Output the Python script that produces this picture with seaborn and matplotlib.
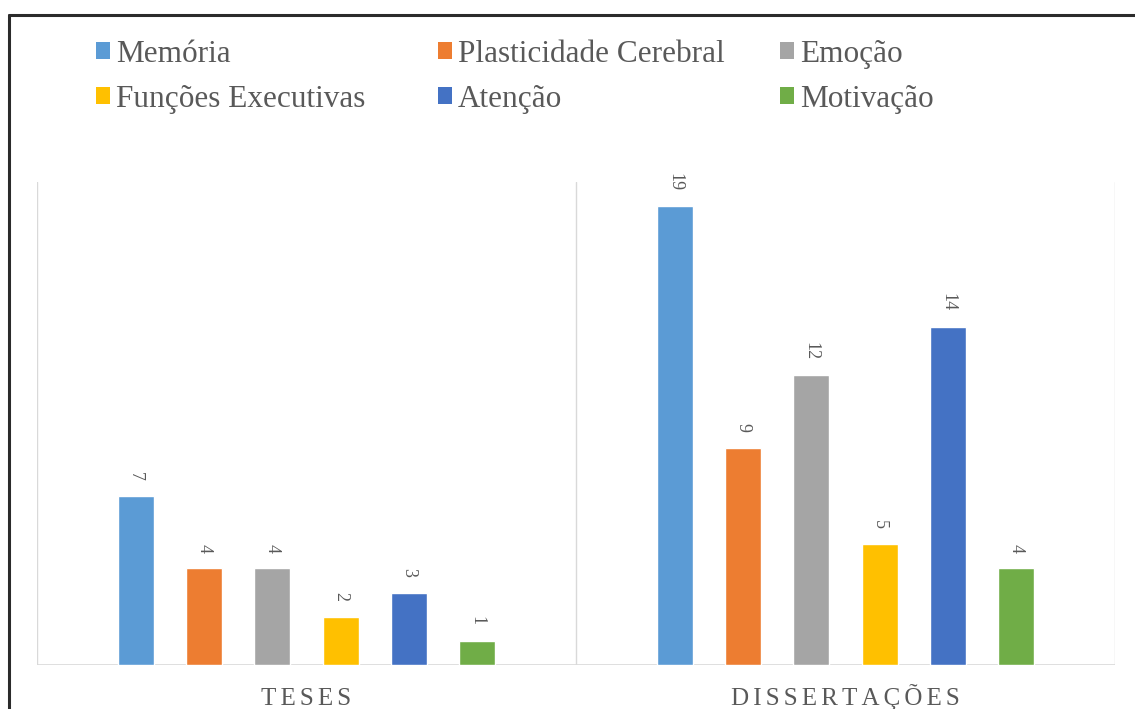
import matplotlib
matplotlib.use("Agg")
import matplotlib.pyplot as plt
from matplotlib.lines import Line2D
from matplotlib.patches import Patch
import seaborn as sns
import pandas as pd

# Data
groups = ["TESES", "DISSERTAÇÕES"]
categories = ["Memória", "Plasticidade Cerebral", "Emoção",
              "Funções Executivas", "Atenção", "Motivação"]
teses = [7, 4, 4, 2, 3, 1]
dissertacoes = [19, 9, 12, 5, 14, 4]
colors = ["#5B9BD5", "#ED7D31", "#A5A5A5", "#FFC000", "#4472C4", "#70AD47"]

df = pd.DataFrame({
    "grupo": [groups[0]] * len(categories) + [groups[1]] * len(categories),
    "tema": categories * 2,
    "n": teses + dissertacoes,
})

sns.set_theme(style="white")
plt.rcParams["font.family"] = ["Liberation Serif", "DejaVu Serif"]
text_color = "#595959"
grid_color = "#D9D9D9"

W, H = 1135, 709
fig = plt.figure(figsize=(W / 100, H / 100), dpi=100)
ax = fig.add_axes([37 / W, 44 / H, (1115 - 37) / W, (665 - 182) / H])

sns.barplot(data=df, x="grupo", y="n", hue="tema", order=groups,
            hue_order=categories, palette=colors, width=0.76, gap=0.47,
            ax=ax, legend=False, saturation=1)

for cont in ax.containers:
    ax.bar_label(cont, rotation=270, padding=11, fontsize=13,
                 color=text_color)

ax.set_xlim(-0.5, 1.5)
ax.set_ylim(0, 20)
ax.set_yticks([])
ax.set_xlabel("")
ax.set_ylabel("")
for s in ax.spines.values():
    s.set_visible(False)
ax.axhline(0, color=grid_color, lw=1.2, zorder=0)
for xv in (-0.5, 0.5, 1.5):
    ax.axvline(xv, color=grid_color, lw=1.0, zorder=0)

# Letter-spaced category labels
spaced = ["\u2006".join(g) for g in groups]
ax.set_xticks(range(len(groups)))
ax.set_xticklabels(spaced, fontsize=18, color=text_color)
for t in ax.get_xticklabels():
    t.set_verticalalignment("baseline")
ax.tick_params(axis="x", length=0, pad=29)

# Legend: three equal-width columns, two rows, filled row by row
handles = [Patch(facecolor=c, edgecolor="none") for c in colors]
col_x = [96, 438, 780]
for j, x0 in enumerate(col_x):
    idx = [j, j + 3]
    fig.legend([handles[i] for i in idx], [categories[i] for i in idx],
               ncol=1, loc="upper left",
               bbox_to_anchor=(x0 / W, 1 - 40 / H), frameon=False,
               fontsize=22.5, labelcolor=text_color,
               handlelength=0.45, handleheight=0.45, handletextpad=0.18,
               labelspacing=0.5, borderpad=0, borderaxespad=0)

# Outer frame (top and left edges)
fx, fy = 9 / W, 1 - 15 / H
fig.add_artist(Line2D([fx, fx], [0, fy], transform=fig.transFigure,
                      color="#2b2b2b", lw=2.2))
fig.add_artist(Line2D([fx, 1], [fy, fy], transform=fig.transFigure,
                      color="#2b2b2b", lw=2.2))

fig.savefig("out.png", dpi=100)
